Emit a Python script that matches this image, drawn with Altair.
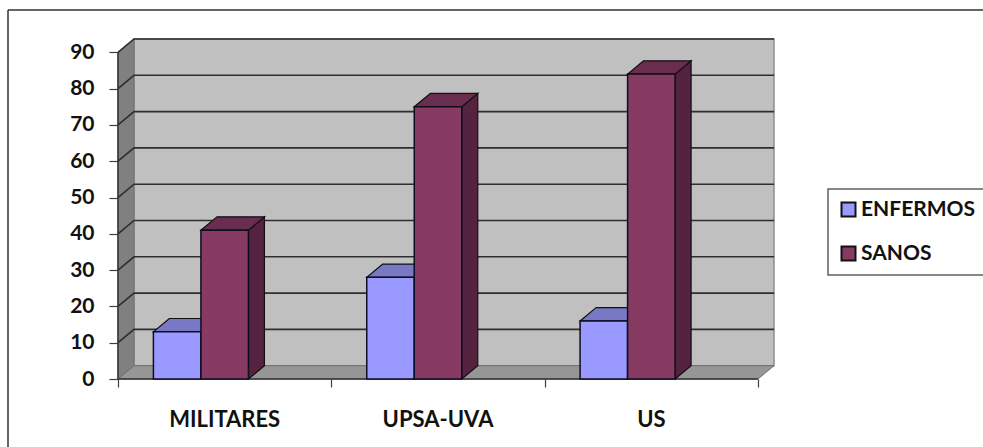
import altair as alt
import pandas as pd

# Survey counts per group
groups = ["MILITARES", "UPSA-UVA", "US"]
enfermos = [13, 28, 16]
sanos = [41, 75, 84]
y_ticks = [0, 10, 20, 30, 40, 50, 60, 70, 80, 90]

# Oblique projection of the box, in axis units
DX = 0.075
DY = 3.67
BAR_W = 0.2227
BAR_START = 0.166
Y_TOP = 90
FONT = "Lato"

x_scale = alt.Scale(domain=[0, 3 + DX], nice=False, zero=False)
y_scale = alt.Scale(domain=[0, Y_TOP + DY], nice=False, zero=False)

x_axis = alt.Axis(values=[0, 1, 2, 3], labels=False, tickSize=8, tickColor="#404040",
                  tickWidth=1.2, domain=False, grid=False, title=None)
y_axis = alt.Axis(values=y_ticks, tickSize=9, tickColor="#404040", tickWidth=1.2,
                  domain=False, grid=False, labelFont=FONT, labelFontWeight="bold",
                  labelFontSize=21, labelColor="#111111", labelPadding=15, title=None)


def X(field):
    return alt.X(f"{field}:Q", scale=x_scale, axis=x_axis)


def Y(field):
    return alt.Y(f"{field}:Q", scale=y_scale, axis=y_axis)


# Box walls
back = pd.DataFrame({"x": [DX], "x2": [3 + DX], "y": [DY], "y2": [Y_TOP + DY]})
left = pd.DataFrame({"x": [0, DX], "y": [0, DY], "y2": [Y_TOP, Y_TOP + DY]})
floor = pd.DataFrame({"y": [0, DY], "x": [0, DX], "x2": [3, 3 + DX]})

back_wall = alt.Chart(back).mark_rect(fill="#C0C0C0", stroke="#8C8C8C", strokeWidth=1.5).encode(
    x=X("x"), x2="x2:Q", y=Y("y"), y2="y2:Q")
left_wall = alt.Chart(left).mark_area(fill="#808080", stroke="#707070", strokeWidth=1).encode(
    x=X("x"), y=Y("y"), y2="y2:Q")
floor_face = alt.Chart(floor).mark_area(orient="horizontal", fill="#969696", stroke="#6E6E6E",
                                        strokeWidth=1).encode(
    y=Y("y"), x=X("x"), x2="x2:Q")

# Gridlines wrap from the left wall onto the back wall
grid_rows = []
for v in y_ticks[1:]:
    grid_rows += [{"v": v, "o": 0, "x": 0, "y": v},
                  {"v": v, "o": 1, "x": DX, "y": v + DY},
                  {"v": v, "o": 2, "x": 3 + DX, "y": v + DY}]
grid = alt.Chart(pd.DataFrame(grid_rows)).mark_line(color="#2E2E2E", strokeWidth=1.6).encode(
    x=X("x"), y=Y("y"), detail="v:N", order="o:Q")

# Front edges of the box
y_edge = alt.Chart(pd.DataFrame({"x": [0], "y": [0], "y2": [Y_TOP]})).mark_rule(
    color="#333333", strokeWidth=1.5).encode(x=X("x"), y=Y("y"), y2="y2:Q")
x_edge = alt.Chart(pd.DataFrame({"x": [0], "x2": [3], "y": [0]})).mark_rule(
    color="#333333", strokeWidth=1.5).encode(x=X("x"), x2="x2:Q", y=Y("y"))

# Bar faces
series = [("ENFERMOS", enfermos, 0, "#7878C4", "#5F5F9E"),
          ("SANOS", sanos, 1, "#6A2D4E", "#55233F")]
front_rows, side_layers, top_layers = [], [], []
for name, values, slot, top_color, side_color in series:
    side_rows, top_rows = [], []
    for i, (g, v) in enumerate(zip(groups, values)):
        x0 = i + BAR_START + slot * BAR_W
        x1 = x0 + BAR_W
        front_rows.append({"serie": name, "x": x0, "x2": x1, "y": 0, "y2": v})
        side_rows += [{"g": g, "x": x1, "y": 0, "y2": v},
                      {"g": g, "x": x1 + DX, "y": DY, "y2": v + DY}]
        top_rows += [{"g": g, "y": v, "x": x0, "x2": x1},
                     {"g": g, "y": v + DY, "x": x0 + DX, "x2": x1 + DX}]
    side_layers.append(alt.Chart(pd.DataFrame(side_rows)).mark_area(
        fill=side_color, stroke="#111111", strokeWidth=1.2).encode(
        x=X("x"), y=Y("y"), y2="y2:Q", detail="g:N"))
    top_layers.append(alt.Chart(pd.DataFrame(top_rows)).mark_area(
        orient="horizontal", fill=top_color, stroke="#111111", strokeWidth=1.2).encode(
        y=Y("y"), x=X("x"), x2="x2:Q", detail="g:N"))

fronts = alt.Chart(pd.DataFrame(front_rows)).mark_rect(stroke="#0E0E22", strokeWidth=1.5).encode(
    x=X("x"), x2="x2:Q", y=Y("y"), y2="y2:Q",
    color=alt.Color("serie:N",
                    scale=alt.Scale(domain=["ENFERMOS", "SANOS"], range=["#9999FF", "#873A62"]),
                    legend=alt.Legend(orient="none", legendX=710, legendY=150, title=None,
                                      padding=10, strokeColor="#606060", fillColor="#FFFFFF",
                                      symbolType="square", symbolSize=196,
                                      symbolStrokeColor="#111111", symbolStrokeWidth=2,
                                      labelFont=FONT, labelFontWeight="bold", labelFontSize=21,
                                      labelColor="#111111", labelOffset=2, rowPadding=21,
                                      labelLimit=200)))

labels = alt.Chart(pd.DataFrame({"g": groups, "x": [i + 0.5 for i in range(3)], "y": [0] * 3})).mark_text(
    font=FONT, fontWeight="bold", fontSize=22, color="#111111", dy=41).encode(
    x=X("x"), y=Y("y"), text="g:N")

# Outer frame of the chart object
frame_top = alt.Chart(pd.DataFrame({"a": [0]})).mark_rule(color="#333333", strokeWidth=1.5).encode(
    x=alt.value(-110), x2=alt.value(865), y=alt.value(-29))
frame_left = alt.Chart(pd.DataFrame({"a": [0]})).mark_rule(color="#333333", strokeWidth=1.5).encode(
    x=alt.value(-110), y=alt.value(-29), y2=alt.value(408))

chart = alt.layer(
    back_wall, left_wall, floor_face, grid, y_edge, x_edge,
    *side_layers, *top_layers, fronts, labels, frame_top, frame_left,
).properties(
    width=656, height=340,
    padding={"left": 118, "top": 39, "right": 209, "bottom": 68},
    autosize=alt.AutoSizeParams(type="none"),
    background="#FFFFFF",
).configure_view(stroke=None).configure_legend(strokeWidth=1.5)

chart.save("out.html", embed_options={"renderer": "svg", "actions": False})
